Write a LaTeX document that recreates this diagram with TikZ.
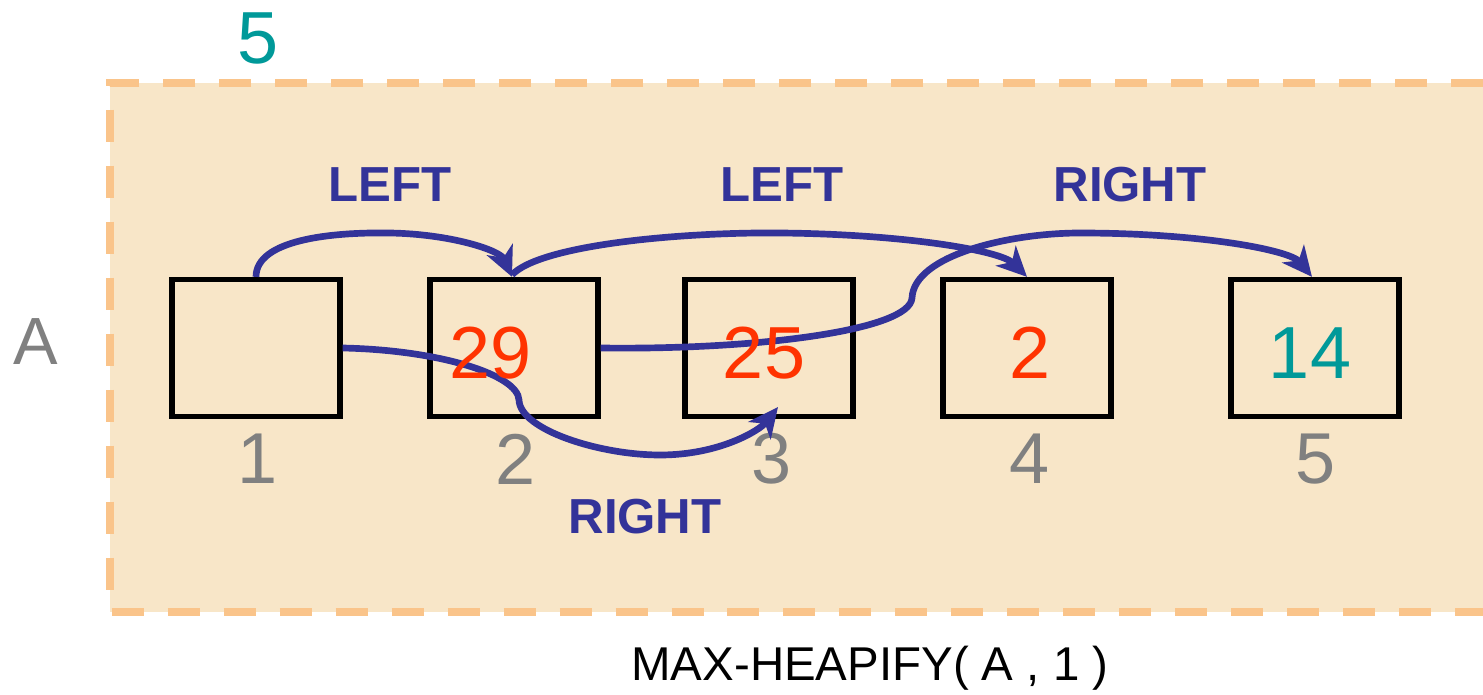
\documentclass[tikz,border=0pt]{standalone}
\usepackage{fontspec}
\setmainfont{Liberation Sans}
\usetikzlibrary{arrows.meta,calc}
\definecolor{bgfill}{HTML}{F8E6C8}
\definecolor{dashc}{HTML}{FAC48A}
\definecolor{arrc}{HTML}{333399}
\definecolor{redv}{HTML}{FF3300}
\definecolor{tealv}{HTML}{009999}
\definecolor{greyv}{HTML}{808080}
\tikzset{
  cell/.style={draw=black, line width=3pt, minimum width=3.36cm, minimum height=2.74cm, inner sep=0pt},
  valred/.style={text=redv, font=\fontsize{42}{44}\selectfont, inner sep=0pt},
  valteal/.style={text=tealv, font=\fontsize{42}{44}\selectfont, inner sep=0pt},
  idx/.style={text=greyv, font=\fontsize{41}{44}\selectfont, inner sep=0pt},
  lbl/.style={text=arrc, font=\fontsize{28}{30}\selectfont\bfseries, inner sep=0pt},
  link/.style={draw=arrc, line width=3.8pt, -{Stealth[length=17pt,width=16pt,inset=5pt]}},
}
\begin{document}
\begin{tikzpicture}[x=0.02cm,y=-0.02cm]
\useasboundingbox (0,0) rectangle (1483,695);
% background panel
\fill[bgfill] (110,83) rectangle (1483,612);
\draw[dashc, line width=4.5pt, dash pattern=on 0.64cm off 0.48cm] (1483,83) -- (110,83) -- (110,612) -- (1483,612);
% texts outside
\node[text=tealv, font=\fontsize{42}{44}\selectfont, inner sep=0pt] (n5) at (258,38) {5};
\node[text=greyv, font=\fontsize{38}{40}\selectfont, inner sep=0pt] (A) at (36,342) {A};
\node[font=\fontsize{27}{30}\selectfont, inner sep=0pt] (cap) at (870,668) {MAX-HEAPIFY( A , 1 )};
% cells
\node[cell] (b1) at (256,348) {};
\node[cell] (b2) at (514,348) {};
\node[cell] (b3) at (769,348) {};
\node[cell] (b4) at (1027,348) {};
\node[cell] (b5) at (1315,348) {};
% indices
\node[idx] (i1) at (258,459) {1};
\node[idx] (i2) at (516,459) {2};
\node[idx] (i3) at (772,459) {3};
\node[idx] (i4) at (1030,459) {4};
\node[idx] (i5) at (1316,459) {5};
% labels
\node[lbl] (l1) at (390,185) {LEFT};
\node[lbl] (l2) at (782,185) {LEFT};
\node[lbl] (l3) at (1130,185) {RIGHT};
\node[lbl] (l4) at (645,517) {RIGHT};
% arrows
\coordinate (t3) at (778,407);
\draw[link] (b1.north) .. controls (256,240) and (330,232) .. (390,233)
  .. controls (450,234) and (500,250) .. ($(b2.north)+(-2,0)$);
\draw[link] ($(b2.north)+(-2,-2)$) .. controls (540,245) and (680,232) .. (780,233)
  .. controls (900,234) and (1000,250) .. (b4.north);
\draw[link] (b2.east) .. controls (760,350) and (910,330) .. (912,298)
  .. controls (914,255) and (1010,233) .. (1080,233)
  .. controls (1200,233) and (1290,250) .. ($(b5.north)+(-3,0)$);
\draw[link] (b1.east) .. controls (440,350) and (518,375) .. (519,400)
  .. controls (520,430) and (600,455) .. (660,455)
  .. controls (720,455) and (760,430) .. (t3);
% values
\node[valred] (v2) at (491,353) {29};
\node[valred] (v3) at (764,353) {25};
\node[valred] (v4) at (1030,353) {2};
\node[valteal] (v5) at (1310,353) {14};
\end{tikzpicture}
\end{document}
